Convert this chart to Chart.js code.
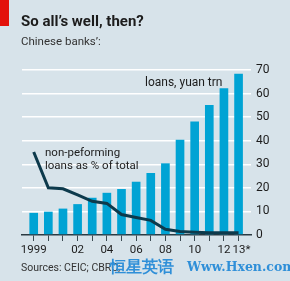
<!DOCTYPE html>
<html>
<head>
<meta charset="utf-8">
<script src="https://cdn.jsdelivr.net/npm/chart.js@4"></script>
<style>
  body { margin: 0; background: #d7e3ea; }
  #wrap { position: relative; width: 290px; height: 281px; background: #d7e3ea; overflow: hidden; font-family: Roboto, "Noto Sans", sans-serif; color: #1c1c1c; }
  #wrap canvas { position: absolute; left: 0; top: 0; }
  .t { position: absolute; white-space: nowrap; }
  #redbar { position: absolute; left: 0; top: 0; width: 9px; height: 26px; background: #e3120b; }
  #title { left: 21px; top: 12px; font-size: 15px; font-weight: bold; }
  #sub { left: 21px; top: 34px; font-size: 11.5px; color: #333; }
  #loansLbl { left: 145px; top: 75px; font-size: 12px; }
  #nplLbl { left: 45px; top: 146px; font-size: 11.5px; line-height: 13px; }
  #src { left: 21px; top: 261px; font-size: 10.5px; color: #333; }
  #wm { left: 110px; top: 257px; font-size: 16px; color: #2f8fd8; font-weight: bold; }
  #wm2 { left: 187px; top: 259px; font-size: 12.5px; color: #2f8fd8; font-family: "DejaVu Serif", serif; font-weight: bold; }
</style>
</head>
<body>
<div id="wrap">
  <canvas id="chart" width="290" height="281"></canvas>
  <div id="redbar"></div>
  <div class="t" id="title">So all’s well, then?</div>
  <div class="t" id="sub">Chinese banks’:</div>
  <div class="t" id="loansLbl">loans, yuan trn</div>
  <div class="t" id="nplLbl">non-peforming<br>loans as % of total</div>
  <div class="t" id="src">Sources: CEIC; CBRC;</div>
  <div class="t" id="wm">恒星英语</div>
  <div class="t" id="wm2">Www.Hxen.com</div>
</div>
<script>
// Dados
const anos = [1999, 2000, 2001, 2002, 2003, 2004, 2005, 2006, 2007, 2008, 2009, 2010, 2011, 2012, 2013];
const emprestimos = [9.4, 9.9, 11.2, 13.1, 15.8, 17.9, 19.5, 22.6, 26.3, 30.4, 40.4, 48.2, 55.1, 62.3, 68.4];
const inadimplencia = [35.2, 20.0, 19.6, 17.0, 14.3, 13.4, 8.7, 7.4, 6.2, 2.4, 1.5, 1.2, 1.0, 1.0, 1.0];
const rotulosAnos = ['1999', '', '', '02', '', '04', '', '06', '', '08', '', '10', '', '12', '  13*'];
const ticksY = [0, 10, 20, 30, 40, 50, 60, 70];

function onReady(fn) {
    if (document.readyState === 'loading') document.addEventListener('DOMContentLoaded', fn);
    else fn();
}

onReady(function() {
    const ctx = document.getElementById('chart').getContext('2d');
    new Chart(ctx, {
        data: {
            datasets: [{
                type: 'line',
                data: anos.map((a, i) => ({ x: a, y: inadimplencia[i] })),
                borderColor: '#0d3a4c',
                borderWidth: 3,
                pointRadius: 0,
                tension: 0,
                order: 0
            }, {
                type: 'bar',
                data: anos.map((a, i) => ({ x: a, y: emprestimos[i] })),
                backgroundColor: '#00a3d4',
                categoryPercentage: 0.8,
                barPercentage: 0.74,
                order: 1
            }]
        },
        options: {
            responsive: false,
            animation: false,
            layout: { padding: { left: 22, top: 70, right: 0, bottom: 0 } },
            plugins: { legend: { display: false }, tooltip: { enabled: false } },
            scales: {
                x: {
                    type: 'linear',
                    offset: false,
                    min: 1998.2,
                    max: 2013.85,
                    afterBuildTicks: s => { s.ticks = anos.map(v => ({ value: v })); },
                    afterFit: s => { s.height = 46; },
                    grid: { offset: false, drawOnChartArea: false, drawTicks: true, tickLength: 6, color: '#3a4a52', lineWidth: 1 },
                    border: { display: true, color: '#2b3a42', width: 1.5 },
                    ticks: {
                        autoSkip: false,
                        maxRotation: 0,
                        padding: 2,
                        color: '#1c1c1c',
                        font: { family: 'Roboto', size: 11.5 },
                        callback: v => rotulosAnos[anos.indexOf(v)] ?? ''
                    }
                },
                y: {
                    position: 'right',
                    min: 0,
                    max: 70,
                    afterBuildTicks: s => { s.ticks = ticksY.map(v => ({ value: v })); },
                    afterFit: s => { s.width = 39; },
                    grid: {
                        drawTicks: false,
                        lineWidth: 1.5,
                        color: c => c.tick && c.tick.value === 0 ? 'rgba(0,0,0,0)' : '#ffffff'
                    },
                    border: { display: false },
                    ticks: { padding: 5, color: '#1c1c1c', font: { family: 'Roboto', size: 12 } }
                }
            }
        }
    });
});
</script>
</body>
</html>
